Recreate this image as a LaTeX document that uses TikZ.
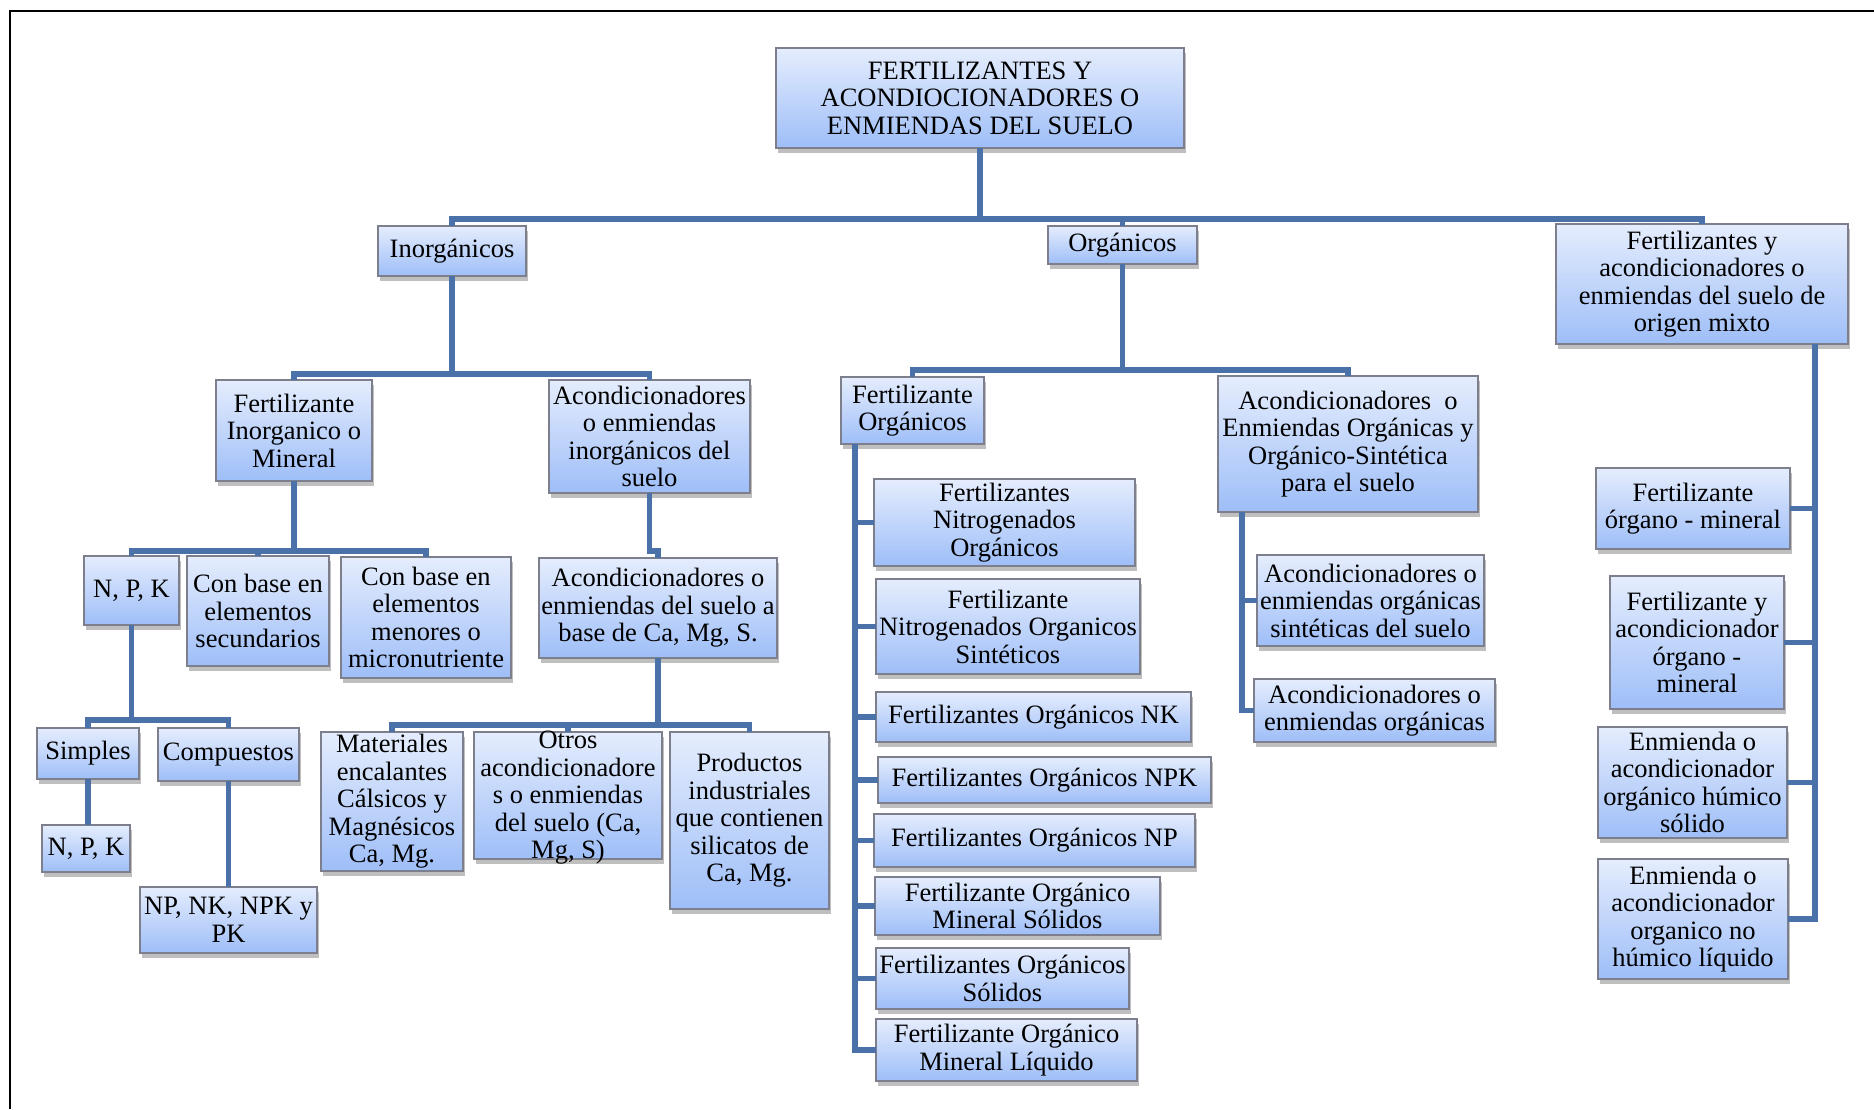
\documentclass[tikz,border=0pt]{standalone}
\usepackage{fontspec}
\setmainfont{Liberation Serif}
\usetikzlibrary{shadows,calc}
\definecolor{boxtop}{RGB}{229,237,253}
\definecolor{boxbot}{RGB}{158,190,248}
\definecolor{boxline}{RGB}{125,128,140}
\definecolor{linecol}{RGB}{74,114,168}
\tikzset{
  box/.style={draw=boxline, line width=0.8pt, top color=boxtop, bottom color=boxbot,
    inner sep=0pt, outer sep=0pt, align=center,
    font=\fontsize{13.25pt}{13.75pt}\selectfont,
    drop shadow={shadow xshift=1.2pt, shadow yshift=-2.5pt, fill=black, opacity=0.25}},
  conn/.style={draw=linecol, line width=2.75pt, line join=miter}
}
\newcommand\mybox[6]{\node[box, minimum width={(#4-#2)*0.5pt}, minimum height={(#5-#3)*0.5pt}] (#1) at ({(#2+#4)/2},{(#3+#5)/2}) {#6};}
\begin{document}
\begin{tikzpicture}[x=0.5pt,y=-0.5pt]
\useasboundingbox (0,0) rectangle (1874,1109);
\fill[white] (0,0) rectangle (1874,1109);
\draw[line width=1pt] (9.6,1109) -- (9.6,11) -- (1874,11);

% level 0-1
\mybox{root}{776}{48}{1184}{148}{FERTILIZANTES Y\\ACONDIOCIONADORES O\\ENMIENDAS DEL SUELO}
\mybox{inorg}{378}{226}{526}{276}{Inorgánicos}
\mybox{org}{1048}{226}{1197}{264}{Orgánicos}
\mybox{mixto}{1556}{224}{1848}{344}{Fertilizantes y\\acondicionadores o\\enmiendas del suelo de\\origen mixto}

% level 2
\mybox{fim}{216}{380}{372}{481}{Fertilizante\\Inorganico o\\Mineral}
\mybox{aci}{549}{380}{750}{493}{Acondicionadores\\o enmiendas\\inorgánicos del\\suelo}
\mybox{fo}{841}{377}{984}{444}{Fertilizante\\Orgánicos}
\mybox{aco}{1218}{376}{1478}{512}{Acondicionadores~ o\\Enmiendas Orgánicas y\\Orgánico-Sintética\\para el suelo}

% inorganic subtree
\mybox{npk}{84}{556}{179}{625}{N, P, K}
\mybox{sec}{187}{556}{329}{666}{Con base en\\elementos\\secundarios}
\mybox{mic}{341}{557}{511}{678}{Con base en\\elementos\\menores o\\micronutriente}
\mybox{ab}{539}{558}{777}{658}{Acondicionadores o\\enmiendas del suelo a\\base de Ca, Mg, S.}
\mybox{sim}{37}{728}{139}{779}{Simples}
\mybox{comp}{158}{728}{299}{781}{Compuestos}
\mybox{npk2}{42}{825}{130}{872}{N, P, K}
\mybox{np}{140}{887}{317}{953}{NP, NK, NPK y\\PK}
\mybox{mat}{321}{732}{463}{871}{Materiales\\encalantes\\Cálsicos y\\Magnésicos\\Ca, Mg.}
\mybox{otr}{474}{732}{662}{859}{\raisebox{-5pt}[0pt][0pt]{\begin{tabular}{@{}c@{}}Otros\\acondicionadore\\s o enmiendas\\del suelo (Ca,\\Mg, S)\end{tabular}}}
\mybox{pro}{670}{732}{829}{909}{Productos\\industriales\\que contienen\\silicatos de\\Ca, Mg.}

% organic subtree
\mybox{o1}{874}{479}{1135}{566}{Fertilizantes\\Nitrogenados\\Orgánicos}
\mybox{o2}{876}{579}{1140}{674}{Fertilizante\\Nitrogenados Organicos\\Sintéticos}
\mybox{o3}{876}{692}{1191}{742}{Fertilizantes Orgánicos NK}
\mybox{o4}{878}{757}{1211}{803}{Fertilizantes Orgánicos NPK}
\mybox{o5}{874}{814}{1195}{867}{Fertilizantes Orgánicos NP}
\mybox{o6}{875}{877}{1160}{935}{Fertilizante Orgánico\\Mineral Sólidos}
\mybox{o7}{876}{948}{1129}{1009}{Fertilizantes Orgánicos\\Sólidos}
\mybox{o8}{876}{1019}{1137}{1081}{Fertilizante Orgánico\\Mineral Líquido}
\mybox{a1}{1257}{555}{1484}{646}{Acondicionadores o\\enmiendas orgánicas\\sintéticas del suelo}
\mybox{a2}{1254}{679}{1495}{742}{Acondicionadores o\\enmiendas orgánicas}

% mixed subtree
\mybox{m1}{1596}{468}{1790}{549}{Fertilizante\\órgano - mineral}
\mybox{m2}{1610}{576}{1784}{709}{Fertilizante y\\acondicionador\\órgano -\\mineral}
\mybox{m3}{1598}{727}{1787}{838}{Enmienda o\\acondicionador\\orgánico húmico\\sólido}
\mybox{m4}{1598}{859}{1788}{979}{Enmienda o\\acondicionador\\organico no\\húmico líquido}

% bus coordinates
\coordinate (bus1) at (0,219);
\coordinate (bus2) at (0,374);
\coordinate (bus3) at (0,370);
\coordinate (bus4) at (0,551);
\coordinate (bus5) at (0,720);
\coordinate (bus6) at (0,725);
\coordinate (foT) at (855,0);
\coordinate (acoT) at (1242,0);
\coordinate (mxT) at (1815,0);

% connectors
\draw[conn] (root.south) -- (root.south |- bus1);
\draw[conn] (inorg.north) |- (mixto.north |- bus1) -- (mixto.north);
\draw[conn] (org.north) -- (org.north |- bus1);

\draw[conn] (inorg.south) -- (inorg.south |- bus2);
\draw[conn] (fim.north) |- (aci.north |- bus2) -- (aci.north);

\draw[conn] (org.south) -- (org.south |- bus3);
\draw[conn] (fo.north) |- (aco.north |- bus3) -- (aco.north);

\draw[conn] (fim.south) -- (fim.south |- bus4);
\draw[conn] (npk.north) |- (mic.north |- bus4) -- (mic.north);
\draw[conn] (sec.north) -- (sec.north |- bus4);

\draw[conn] (npk.south) -- (npk.south |- bus5);
\draw[conn] (sim.north) |- (comp.north |- bus5) -- (comp.north);
\draw[conn] (sim.south) -- (sim.south |- npk2.north);
\draw[conn] (comp.south) -- (comp.south |- np.north);

\draw[conn] (aci.south) -- (aci.south |- bus4) -| (ab.north);
\draw[conn] (ab.south) -- (ab.south |- bus6);
\draw[conn] (mat.north) |- (pro.north |- bus6) -- (pro.north);
\draw[conn] (otr.north) -- (otr.north |- bus6);

\draw[conn] (fo.south -| foT) |- (o8.west);
\foreach \n in {o1,o2,o3,o4,o5,o6,o7} \draw[conn] (\n.west) -- (\n.west -| foT);

\draw[conn] (aco.south -| acoT) |- (a2.west);
\draw[conn] (a1.west) -- (a1.west -| acoT);

\draw[conn] (mixto.south -| mxT) |- (m4.east);
\foreach \n in {m1,m2,m3} \draw[conn] (\n.east) -- (\n.east -| mxT);
\end{tikzpicture}
\end{document}
